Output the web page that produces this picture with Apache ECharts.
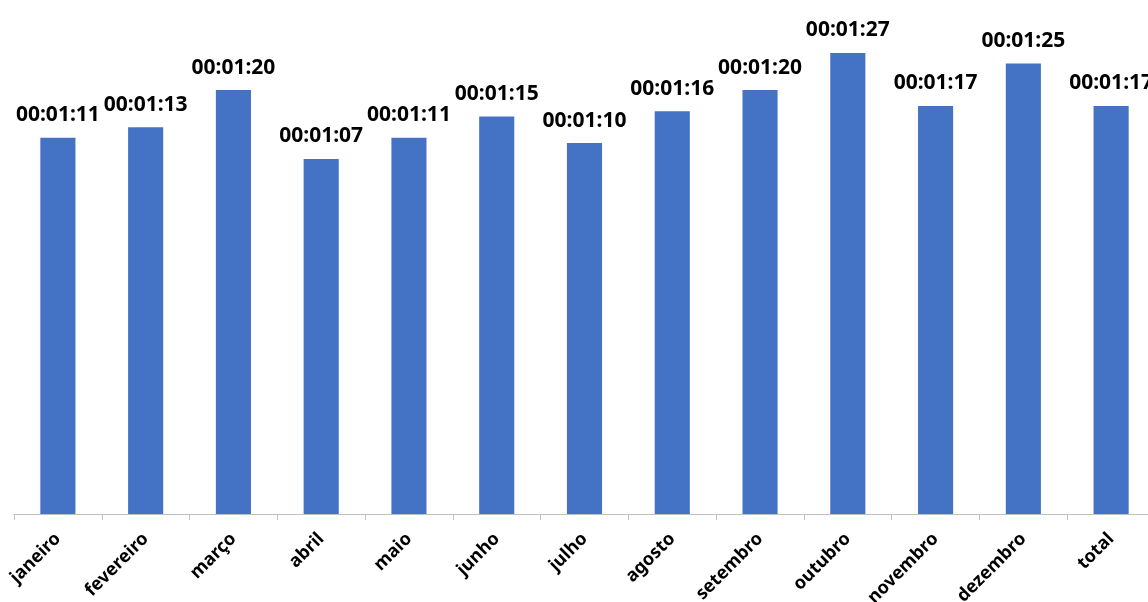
<!DOCTYPE html>
<html>
<head>
<meta charset="utf-8">
<script src="https://cdn.jsdelivr.net/npm/echarts@6/dist/echarts.min.js"></script>
<style>
  html, body { margin: 0; padding: 0; background: #ffffff; }
  #chart { width: 1148px; height: 602px; }
</style>
</head>
<body>
<div id="chart"></div>
<script>
// Average session duration per month, in seconds
const months = ['janeiro', 'fevereiro', 'março', 'abril', 'maio', 'junho', 'julho',
  'agosto', 'setembro', 'outubro', 'novembro', 'dezembro', 'total'];
const durationSeconds = [71, 73, 80, 67, 71, 75, 70, 76, 80, 87, 77, 85, 77];

function toClock(sec) {
  const h = Math.floor(sec / 3600);
  const m = Math.floor((sec % 3600) / 60);
  const s = sec % 60;
  const p = n => String(n).padStart(2, '0');
  return p(h) + ':' + p(m) + ':' + p(s);
}

const chart = echarts.init(document.getElementById('chart'));
chart.setOption({
  animation: false,
  grid: { left: 14, top: 0, width: 1141, height: 514, outerBoundsMode: 'none', containLabel: false },
  xAxis: {
    type: 'category',
    data: months,
    axisLine: { lineStyle: { color: '#bfbfbf', width: 1 } },
    axisTick: { show: true, length: 6, lineStyle: { color: '#bfbfbf' } },
    axisLabel: {
      rotate: 45,
      margin: 22,
      color: '#000000',
      fontFamily: 'Noto Sans',
      fontWeight: 'bold',
      fontSize: 18
    }
  },
  yAxis: {
    type: 'value',
    min: 0,
    max: 97,
    show: false,
    splitLine: { show: false }
  },
  series: [{
    type: 'bar',
    data: durationSeconds,
    barWidth: '40%',
    itemStyle: { color: '#4472c4' },
    label: {
      show: true,
      position: 'top',
      distance: 12,
      color: '#000000',
      fontFamily: 'Noto Sans',
      fontWeight: 'bold',
      fontSize: 21,
      formatter: p => toClock(p.value)
    }
  }]
});
</script>
</body>
</html>
